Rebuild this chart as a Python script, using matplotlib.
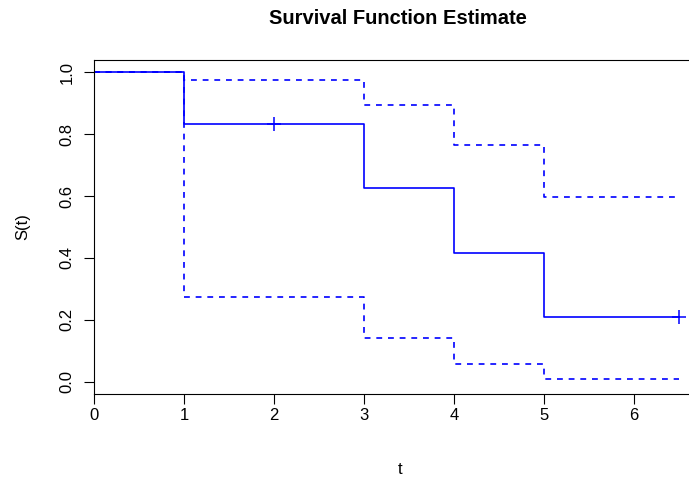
import matplotlib
matplotlib.use("Agg")
import matplotlib.pyplot as plt

plt.rcParams['font.family'] = ['Liberation Sans', 'DejaVu Sans']

# step times and Kaplan-Meier estimates
times = [0, 1, 3, 4, 5, 6.5]
surv = [1.0, 0.833, 0.625, 0.417, 0.208, 0.208]
upper = [1.0, 0.975, 0.893, 0.765, 0.596, 0.596]
lower = [1.0, 0.273, 0.142, 0.058, 0.010, 0.010]
censor_t = [2, 6.5]
censor_s = [0.833, 0.208]

fig = plt.figure(figsize=(6.89, 4.79), dpi=100)
# axes box runs past the right edge, as in the reference
ax = fig.add_axes([94 / 689, 1 - 394 / 479, 612 / 689, 334 / 479])

ax.step(times, surv, where='post', color='#0000ff', lw=1.2)
ax.step(times, upper, where='post', color='#0000ff', lw=1.2, dashes=(3.5, 3.5))
ax.step(times, lower, where='post', color='#0000ff', lw=1.2, dashes=(3.5, 3.5))
ax.plot(censor_t, censor_s, ls='none', marker='+', color='#0000ff', ms=10, mew=1.1)

ax.set_xlim(0, 6.8)
ax.set_ylim(-0.04, 1.04)
ax.set_xticks(range(7))
ax.set_yticks([0.0, 0.2, 0.4, 0.6, 0.8, 1.0])
ax.set_yticklabels(['0.0', '0.2', '0.4', '0.6', '0.8', '1.0'], rotation=90, va='center')
ax.tick_params(direction='out', length=7, labelsize=12, width=0.8)
ax.tick_params(axis='x', pad=3)
ax.tick_params(axis='y', pad=7)
ax.spines['right'].set_visible(False)
for s in ['left', 'top', 'bottom']:
    ax.spines[s].set_linewidth(0.8)

ax.set_xlabel('t', fontsize=12, labelpad=28)
ax.set_ylabel('S(t)', fontsize=12, labelpad=21)
fig.text(398 / 689, 1 - 18 / 479, 'Survival Function Estimate', ha='center', va='center',
         fontsize=14.5, fontweight='bold')

fig.savefig('out.png', dpi=100)
